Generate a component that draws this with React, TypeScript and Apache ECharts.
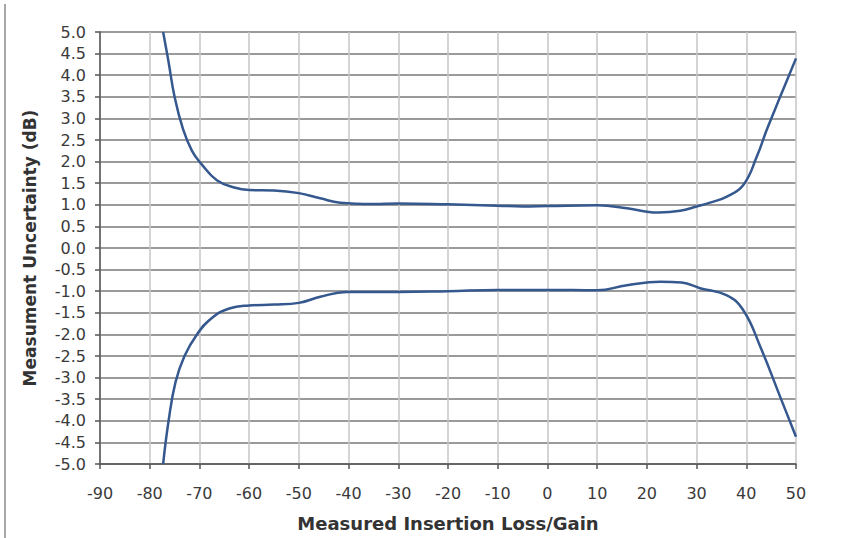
import React, { useEffect, useRef } from "react";
import * as echarts from "echarts";

// Measured insertion loss/gain (x) vs measurement uncertainty (y)
const upperX = [-77.3, -76.2, -75, -73.3, -71.5, -69.5, -66.5, -63, -60, -55, -50, -45.7, -41.7, -35, -30, -20, -10, -5, 0, 10, 16, 20, 22.4, 26.7, 30, 32.7, 36.1, 39.4, 42.1, 44.1, 47.1, 50];
const upperY = [5.0, 4.3, 3.5, 2.75, 2.25, 1.93, 1.57, 1.4, 1.34, 1.33, 1.27, 1.15, 1.05, 1.02, 1.03, 1.01, 0.98, 0.96, 0.97, 0.99, 0.92, 0.84, 0.82, 0.86, 0.96, 1.05, 1.19, 1.46, 2.11, 2.73, 3.58, 4.39];
const lowerX = [-77.3, -76.2, -74.8, -73, -70.5, -67.5, -64, -60, -55, -50, -45.7, -40.4, -30, -20, -10, 0, 10, 16, 22.7, 27, 30.7, 36, 39.4, 42.8, 46.8, 50];
const lowerY = [-5.0, -4.0, -3.1, -2.5, -2.0, -1.62, -1.4, -1.33, -1.31, -1.27, -1.13, -1.02, -1.02, -1.0, -0.97, -0.97, -0.98, -0.86, -0.78, -0.8, -0.93, -1.09, -1.44, -2.28, -3.44, -4.37];

const xMin = -90, xMax = 50, xStep = 10;
const yMin = -5, yMax = 5, yStep = 0.5;

const FONT = "'DejaVu Sans', 'Liberation Sans', Arial, sans-serif";

export default function App() {
  const ref = useRef<HTMLDivElement>(null);
  useEffect(() => {
    if (!ref.current) return;
    const chart = echarts.init(ref.current, undefined, { renderer: "svg" });
    const lineStyle = { color: "#35588f", width: 2.5 };
    chart.setOption({
      animation: false,
      backgroundColor: "#ffffff",
      textStyle: { fontFamily: FONT },
      grid: { left: 100, right: 48, top: 32, bottom: 74 },
      graphic: [
        { type: "line", shape: { x1: 5, y1: 4, x2: 5, y2: 538 }, style: { stroke: "#a8a8a8", lineWidth: 2 } },
      ],
      xAxis: {
        type: "value",
        min: xMin,
        max: xMax,
        interval: xStep,
        name: "Measured Insertion Loss/Gain",
        nameLocation: "middle",
        nameGap: 50,
        nameTextStyle: { fontFamily: FONT, fontSize: 18, fontWeight: "bold", color: "#333" },
        axisLine: { show: true, onZero: false, lineStyle: { color: "#555", width: 1.5 } },
        axisTick: { show: true, inside: false, length: 5, lineStyle: { color: "#555", width: 1.5 } },
        axisLabel: { fontFamily: FONT, fontSize: 16, color: "#3a3a3a", margin: 21 },
        splitLine: { show: true, lineStyle: { color: "#c6c6c6", width: 1.5 } },
      },
      yAxis: {
        type: "value",
        min: yMin,
        max: yMax,
        interval: yStep,
        name: "Measument Uncertainty (dB)",
        nameLocation: "middle",
        nameGap: 62,
        nameTextStyle: { fontFamily: FONT, fontSize: 17, fontWeight: "bold", color: "#333" },
        axisLine: { show: true, onZero: false, lineStyle: { color: "#555", width: 1.5 } },
        axisTick: { show: true, inside: false, length: 5, lineStyle: { color: "#555", width: 1.5 } },
        axisLabel: { fontFamily: FONT, fontSize: 16, color: "#3a3a3a", margin: 14, formatter: (v: number) => v.toFixed(1) },
        splitLine: { show: true, lineStyle: { color: "#9a9a9a", width: 2 } },
      },
      series: [
        {
          type: "line",
          data: upperX.map((x, i) => [x, upperY[i]]),
          smooth: 0.45,
          showSymbol: false,
          lineStyle,
        },
        {
          type: "line",
          data: lowerX.map((x, i) => [x, lowerY[i]]),
          smooth: 0.45,
          showSymbol: false,
          lineStyle,
        },
      ],
    });
    return () => chart.dispose();
  }, []);
  return <div ref={ref} style={{ width: 844, height: 538, position: "absolute", left: 0, top: 0 }} />;
}
